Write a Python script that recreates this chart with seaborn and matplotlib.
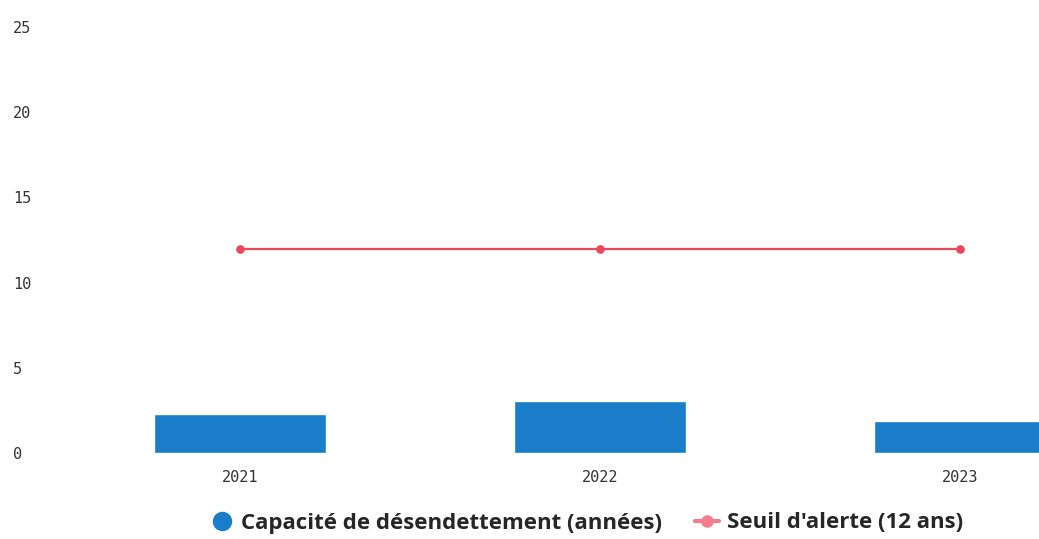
import numpy as np
import pandas as pd
import matplotlib
matplotlib.use('Agg')
import matplotlib.pyplot as plt
from matplotlib.lines import Line2D
import seaborn as sns

# data
years = ['2021', '2022', '2023']
capacite = [2.3, 3.05, 1.9]
seuil = [12, 12, 12]

bar_color = '#1a7dc9'
line_color = '#e8475c'

sns.set_style('white')
plt.rcParams['font.family'] = ['DejaVu Sans']

df = pd.DataFrame({'annee': years, 'capacite': capacite, 'seuil': seuil})

fig = plt.figure(figsize=(10.39, 5.39), dpi=100)
# axes runs past the right edge, like the cropped scan
ax = fig.add_axes([60/1039, 86/539, 1080/1039, (453-27)/539])

sns.barplot(data=df, x='annee', y='capacite', color=bar_color, width=0.48,
            saturation=1, ax=ax)
sns.pointplot(data=df, x='annee', y='seuil', color=line_color, markers='o',
              markersize=5, linewidth=1.6, ax=ax)

ax.set_ylim(0, 25)
ax.set_xlim(-0.5, 2.5)
ax.set_yticks([0, 5, 10, 15, 20, 25])
ax.set_xlabel('')
ax.set_ylabel('')
sns.despine(ax=ax, left=True, bottom=True, top=True, right=True)
ax.tick_params(axis='y', length=0, pad=34, labelcolor='#333333')
ax.tick_params(axis='x', length=0, pad=12, labelcolor='#333333')
for lab in ax.get_yticklabels() + ax.get_xticklabels():
    lab.set_fontfamily('DejaVu Sans Mono')
    lab.set_fontsize(11)
for lab in ax.get_yticklabels():
    lab.set_horizontalalignment('left')

handles = [
    Line2D([], [], marker='o', color=bar_color, linestyle='none', markersize=13),
    Line2D([], [], marker='o', color='#f47c8c', linewidth=3, markersize=8),
]
labels = ['Capacité de désendettement (années)', "Seuil d'alerte (12 ans)"]
fig.legend(handles, labels, loc='center', bbox_to_anchor=(586/1039, 1 - 523/539),
           ncol=2, frameon=False, handlelength=1.1, handletextpad=0.34,
           columnspacing=1.45, borderpad=0,
           prop={'family': 'Open Sans', 'weight': 'bold', 'size': 16})

fig.savefig('out.png', dpi=100)
